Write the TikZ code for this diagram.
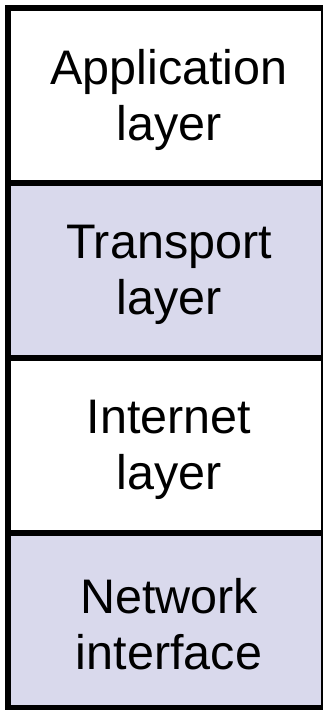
\documentclass[tikz,border=0pt]{standalone}
\usepackage{fontspec}
\setmainfont{Liberation Sans}
\usepackage{tikz}
\usetikzlibrary{positioning}
\definecolor{layerblue}{RGB}{217,217,236}
\tikzstyle{layer}=[rectangle,draw=black,line width=6pt,outer sep=0pt,inner sep=0pt,minimum width=316pt,minimum height=175pt]
\tikzstyle{caption}=[align=center,inner sep=0pt,font=\fontsize{48.5}{56}\selectfont]

\begin{document}
\begin{tikzpicture}[x=1pt,y=1pt]

    \useasboundingbox (0,0) rectangle (323,-710);

    % top of the stack
    \node[layer,fill=white] (app) at (166,-95.5) {};

    % the other layers hang one below the other
    \foreach \name/ \prev/ \col in {trans/app/layerblue, inet/trans/white, net/inet/layerblue}
        \node[layer,fill=\col,below=0pt of \prev] (\name) {};

    % layer names, a little right of and below the box centres
    \foreach \name/ \txt in {app/{Application\\layer}, trans/{Transport\\layer}, inet/{Internet\\layer}, net/{Network\\interface}}
        \node[caption,xshift=3pt,yshift=-4pt] (\name-txt) at (\name) {\txt};

\end{tikzpicture}
\end{document}
